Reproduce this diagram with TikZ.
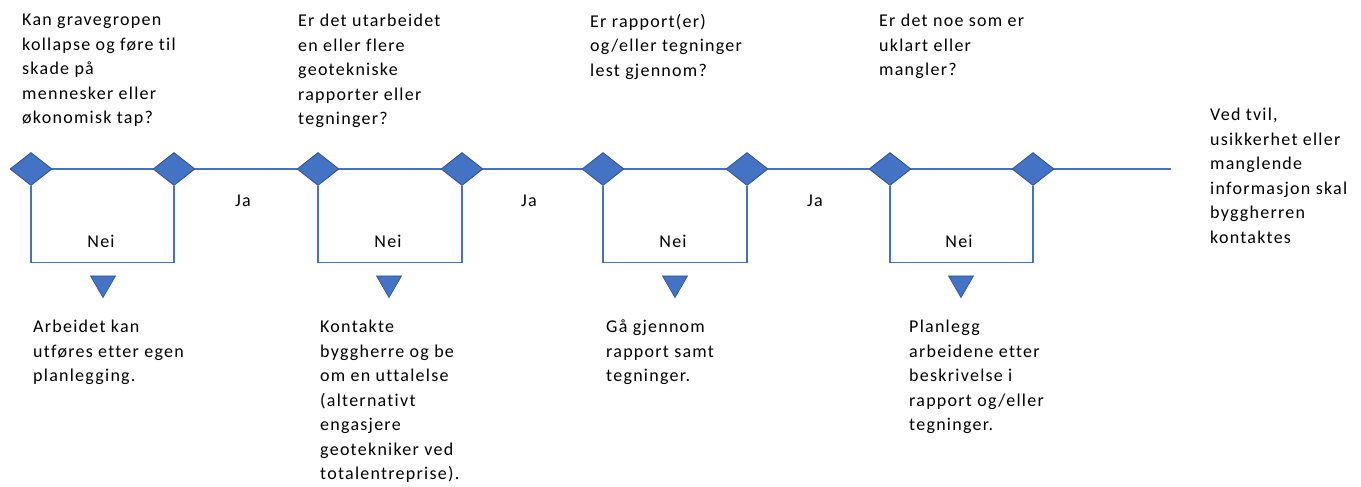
\documentclass[tikz,border=0pt]{standalone}
\usepackage{fontspec}
\setmainfont[Ligatures=NoCommon,LetterSpace=7]{Carlito}
\usetikzlibrary{shapes.geometric}
\definecolor{flowblue}{HTML}{4472C4}
\definecolor{flowedge}{HTML}{2F528F}
\tikzset{
  gate/.style={
    diamond,
    draw=flowedge,
    fill=flowblue,
    line width=0.8pt,
    minimum width=42pt,
    minimum height=33pt,
    inner sep=0pt
  },
  pointer/.style={
    regular polygon,
    regular polygon sides=3,
    shape border rotate=180,
    draw=flowedge,
    fill=flowblue,
    line width=0.6pt,
    minimum size=28.9pt,
    inner sep=0pt
  },
  link/.style={
    draw=flowblue,
    line width=1.2pt
  },
  note/.style={
    anchor=north west,
    align=left,
    inner sep=0pt,
    font=\fontsize{18}{24.5}\selectfont
  },
  tag/.style={
    inner sep=0pt,
    font=\fontsize{18}{24.5}\selectfont
  }
}

\begin{document}
\begin{tikzpicture}[x=1pt,y=-1pt]
\useasboundingbox (0,0) rectangle (1361,487);

% questions
\node[note] (q1) at (22,14) {Kan gravegropen\\kollapse og føre til\\skade på\\mennesker eller\\økonomisk tap?};
\node[note] (q2) at (298,14) {Er det utarbeidet\\en eller flere\\geotekniske\\rapporter eller\\tegninger?};
\node[note] (q3) at (590,14) {Er rapport(er)\\og/eller tegninger\\lest gjennom?};
\node[note] (q4) at (879,14) {Er det noe som er\\uklart eller\\mangler?};
\node[note] (tip) at (1210,108) {Ved tvil,\\usikkerhet eller\\manglende\\informasjon skal\\byggherren\\kontaktes};

% timeline
\coordinate (lend) at (1171,169);
\node[gate] (d1) at (31,169) {};
\node[gate] (d2) at (174,169) {};
\node[gate] (d3) at (318,169) {};
\node[gate] (d4) at (462,169) {};
\node[gate] (d5) at (603,169) {};
\node[gate] (d6) at (747,169) {};
\node[gate] (d7) at (890,169) {};
\node[gate] (d8) at (1033,169) {};

\draw[link] (d1.east) -- (d2.west);
\draw[link] (d2.east) -- (d3.west);
\draw[link] (d3.east) -- (d4.west);
\draw[link] (d4.east) -- (d5.west);
\draw[link] (d5.east) -- (d6.west);
\draw[link] (d6.east) -- (d7.west);
\draw[link] (d7.east) -- (d8.west);
\draw[link] (d8.east) -- (lend);

% no-branches
\draw[link] (d1.south) -- ++(0,76.5) -| (d2.south);
\draw[link] (d3.south) -- ++(0,76.5) -| (d4.south);
\draw[link] (d5.south) -- ++(0,76.5) -| (d6.south);
\draw[link] (d7.south) -- ++(0,76.5) -| (d8.south);

\node[tag] (n1) at (101,241.5) {Nei};
\node[tag] (n2) at (388,241.5) {Nei};
\node[tag] (n3) at (673,241.5) {Nei};
\node[tag] (n4) at (959,241.5) {Nei};

\node[tag] (j1) at (243,200.5) {Ja};
\node[tag] (j2) at (529,200.5) {Ja};
\node[tag] (j3) at (815,200.5) {Ja};

\node[pointer] (p1) at (103,283.2) {};
\node[pointer] (p2) at (389,283.2) {};
\node[pointer] (p3) at (675,283.2) {};
\node[pointer] (p4) at (961,283.2) {};

% answers
\node[note] (a1) at (33,320) {Arbeidet kan\\utføres etter egen\\planlegging.};
\node[note] (a2) at (320,320) {Kontakte\\byggherre og be\\om en uttalelse\\(alternativt\\engasjere\\geotekniker ved\\totalentreprise).};
\node[note] (a3) at (606,320) {Gå gjennom\\rapport samt\\tegninger.};
\node[note] (a4) at (909,320) {Planlegg\\arbeidene etter\\beskrivelse i\\rapport og/eller\\tegninger.};

\end{tikzpicture}
\end{document}
